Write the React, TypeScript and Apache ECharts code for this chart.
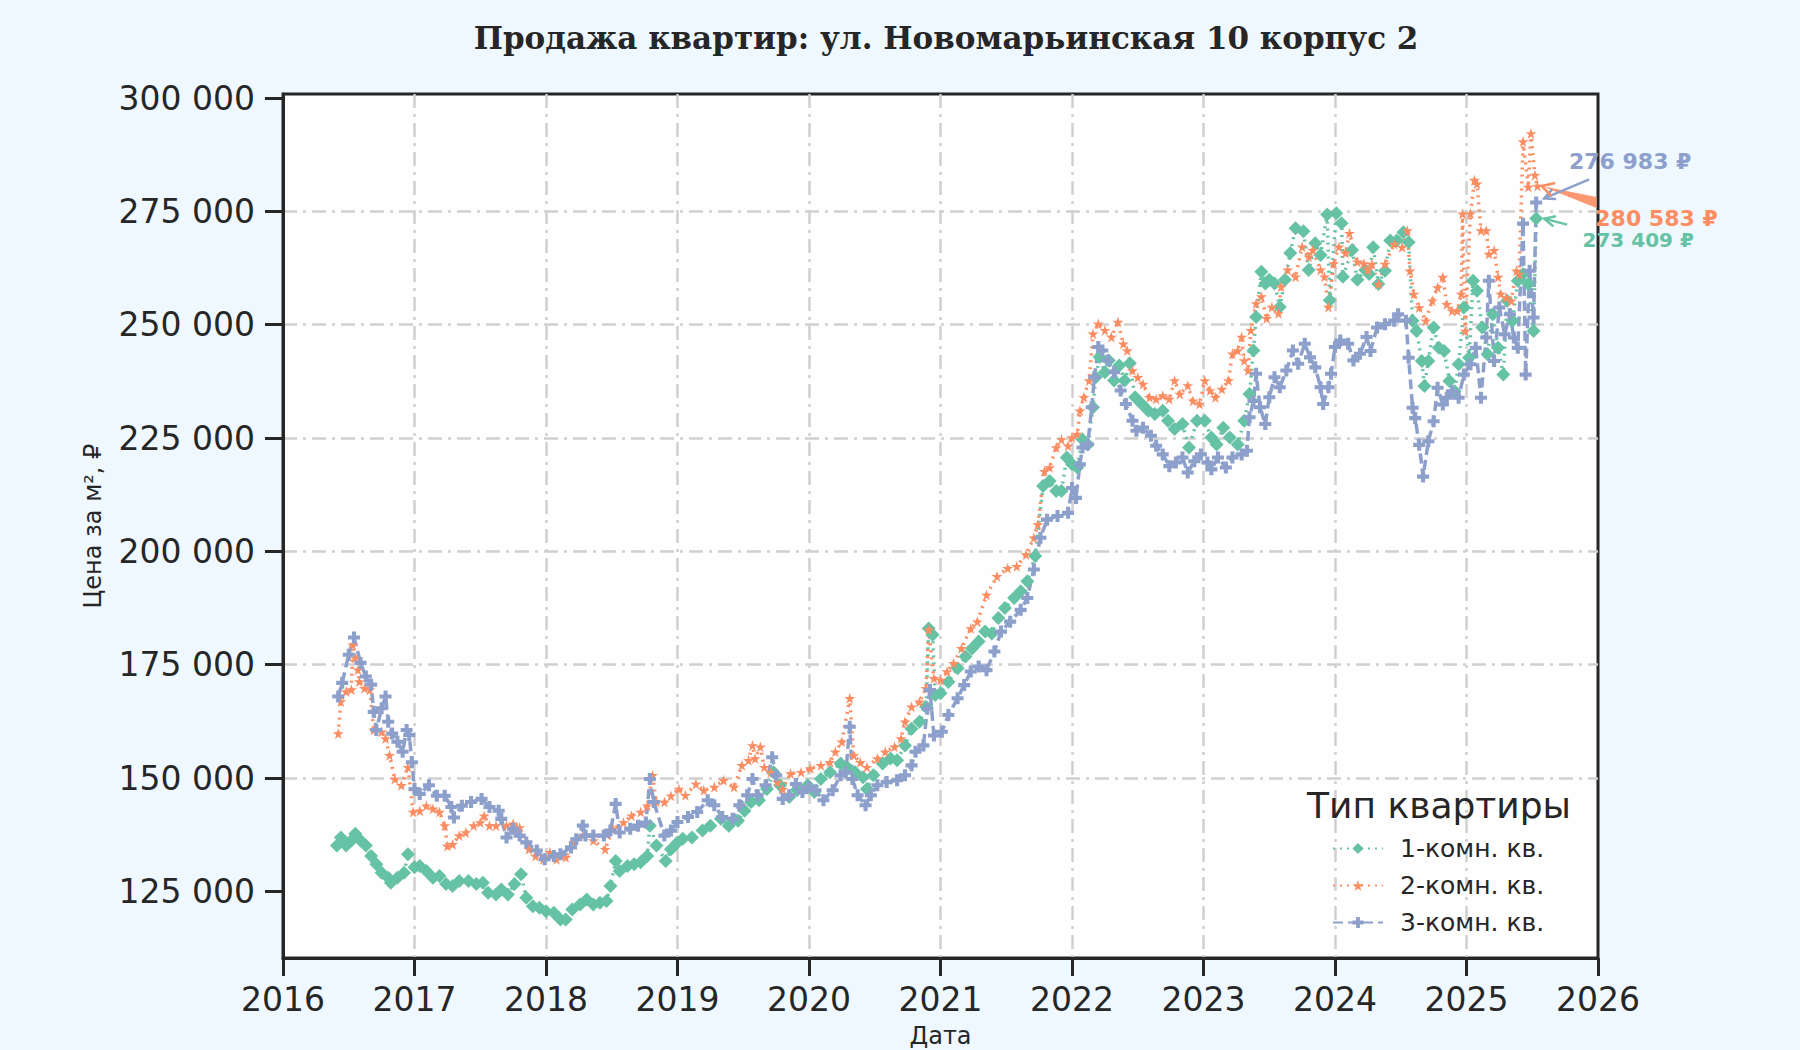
import { useEffect, useRef } from 'react'
import * as echarts from 'echarts'

const TITLE = 'Продажа квартир: ул. Новомарьинская 10 корпус 2'
const seriesNames = ['1-комн. кв.', '2-комн. кв.', '3-комн. кв.']
const seriesColors = ['#66c2a5', '#fc8d62', '#8da0cb']
const priceTicks = [125000, 150000, 175000, 200000, 225000, 250000, 275000, 300000]

// [год, цена за м²]
const oneRoom: [number, number][] = [
  [2016.41, 135100], [2016.44, 136900], [2016.48, 135100], [2016.52, 136200], [2016.55, 137700], [2016.59, 136200], [2016.63, 135100], [2016.67, 132800], [2016.71, 131000], [2016.75, 129100],
  [2016.8, 128000], [2016.82, 126900], [2016.87, 128000], [2016.92, 129100], [2016.95, 133200], [2017.0, 130300], [2017.04, 130600], [2017.09, 129500], [2017.14, 128000], [2017.19, 128400],
  [2017.24, 126600], [2017.29, 126200], [2017.34, 127300], [2017.41, 127300], [2017.47, 126600], [2017.52, 126900], [2017.56, 124700], [2017.62, 124300], [2017.66, 125400], [2017.71, 124300],
  [2017.76, 126600], [2017.81, 128800], [2017.85, 123600], [2017.9, 121700], [2017.95, 121400], [2018.0, 120600], [2018.06, 120300], [2018.11, 118800], [2018.15, 118800], [2018.2, 121000],
  [2018.26, 122100], [2018.31, 123200], [2018.36, 122100], [2018.41, 122500], [2018.46, 122900], [2018.49, 126200], [2018.53, 131700], [2018.56, 129500], [2018.62, 130600], [2018.67, 131000],
  [2018.72, 131400], [2018.77, 132800], [2018.79, 139500], [2018.84, 135100], [2018.91, 131700], [2018.95, 134300], [2019.0, 135800], [2019.04, 136600], [2019.11, 136900], [2019.19, 138400],
  [2019.25, 139500], [2019.33, 141000], [2019.39, 139500], [2019.46, 140600], [2019.51, 142800], [2019.56, 144700], [2019.62, 145100], [2019.68, 147600], [2019.73, 151300], [2019.78, 148400],
  [2019.85, 145800], [2019.91, 147300], [2019.99, 148400], [2020.04, 146900], [2020.09, 149800], [2020.16, 151300], [2020.24, 153200], [2020.3, 152100], [2020.35, 151300], [2020.41, 150200],
  [2020.44, 147600], [2020.49, 150600], [2020.56, 153200], [2020.62, 154300], [2020.67, 153900], [2020.73, 157200], [2020.78, 160900], [2020.84, 162400], [2020.89, 165700], [2020.91, 183000],
  [2020.94, 181600], [2020.96, 168300], [2021.0, 168700], [2021.06, 171200], [2021.13, 174200], [2021.19, 176800], [2021.24, 178600], [2021.29, 180100], [2021.34, 182300], [2021.39, 181900],
  [2021.44, 185300], [2021.49, 187500], [2021.56, 189700], [2021.61, 191200], [2021.66, 193400], [2021.72, 199000], [2021.78, 214400], [2021.83, 215500], [2021.88, 213300], [2021.92, 213300],
  [2021.96, 220700], [2022.0, 219200], [2022.04, 218500], [2022.08, 224700], [2022.12, 223600], [2022.16, 231800], [2022.18, 238400], [2022.21, 242900], [2022.25, 239500], [2022.28, 242100],
  [2022.32, 237700], [2022.36, 241000], [2022.4, 237700], [2022.44, 241500], [2022.48, 234000], [2022.53, 232500], [2022.58, 231000], [2022.63, 230300], [2022.69, 231000], [2022.73, 228800],
  [2022.78, 227000], [2022.84, 228100], [2022.89, 222900], [2022.95, 228800], [2023.01, 228800], [2023.06, 225100], [2023.1, 223600], [2023.15, 227300], [2023.2, 225100], [2023.26, 223600],
  [2023.31, 228800], [2023.35, 234700], [2023.38, 244300], [2023.4, 251700], [2023.44, 261700], [2023.47, 259100], [2023.5, 259900], [2023.54, 259100], [2023.58, 253900], [2023.62, 259900],
  [2023.66, 265800], [2023.7, 271300], [2023.76, 270600], [2023.8, 262100], [2023.85, 268000], [2023.89, 265400], [2023.94, 274300], [2023.96, 255400], [2024.01, 274600], [2024.05, 272400],
  [2024.06, 260600], [2024.13, 266500], [2024.17, 259900], [2024.23, 262100], [2024.26, 261200], [2024.29, 267100], [2024.33, 259000], [2024.38, 261900], [2024.42, 268600], [2024.47, 268600],
  [2024.52, 270400], [2024.56, 268200], [2024.59, 250900], [2024.62, 248600], [2024.66, 242000], [2024.68, 236500], [2024.71, 242000], [2024.75, 249400], [2024.79, 244900], [2024.83, 244200],
  [2024.87, 237600], [2024.91, 235300], [2024.94, 241300], [2024.98, 253800], [2025.02, 242700], [2025.05, 259700], [2025.08, 257500], [2025.12, 249400], [2025.16, 243500], [2025.2, 252300],
  [2025.24, 244900], [2025.28, 239000], [2025.31, 255300], [2025.35, 250900], [2025.39, 259700], [2025.43, 261200], [2025.47, 259000], [2025.51, 248600], [2025.53, 273409],
]

const twoRoom: [number, number][] = [
  [2016.42, 159800], [2016.44, 166900], [2016.48, 169100], [2016.52, 169500], [2016.53, 179400], [2016.55, 176500], [2016.57, 173900], [2016.58, 171300], [2016.62, 169800], [2016.66, 169500],
  [2016.69, 160600], [2016.75, 160200], [2016.78, 158700], [2016.81, 155000], [2016.85, 149800], [2016.9, 148400], [2016.95, 152400], [2016.99, 142500], [2017.04, 142800], [2017.09, 143900],
  [2017.14, 143200], [2017.19, 142500], [2017.23, 139500], [2017.25, 135000], [2017.29, 135400], [2017.34, 137300], [2017.39, 138000], [2017.45, 139500], [2017.5, 140200], [2017.53, 141700],
  [2017.57, 139500], [2017.62, 139500], [2017.7, 139500], [2017.75, 139900], [2017.8, 139100], [2017.87, 134300], [2017.92, 132800], [2017.98, 132100], [2018.03, 133600], [2018.08, 132100],
  [2018.15, 132500], [2018.21, 135800], [2018.28, 137300], [2018.36, 136200], [2018.45, 134300], [2018.51, 138800], [2018.59, 140200], [2018.65, 141700], [2018.72, 142500], [2018.77, 143900],
  [2018.81, 150600], [2018.84, 144700], [2018.9, 144700], [2018.95, 146100], [2019.01, 147600], [2019.06, 146200], [2019.14, 148700], [2019.2, 147300], [2019.28, 148000], [2019.35, 149500],
  [2019.43, 148000], [2019.49, 152800], [2019.54, 153900], [2019.57, 157200], [2019.59, 154300], [2019.63, 156900], [2019.66, 152400], [2019.71, 151300], [2019.76, 149100], [2019.8, 147600],
  [2019.86, 151000], [2019.94, 151300], [2020.01, 152100], [2020.09, 152800], [2020.16, 153500], [2020.2, 155800], [2020.25, 158000], [2020.31, 167600], [2020.34, 155000], [2020.39, 153500],
  [2020.44, 152400], [2020.52, 154300], [2020.58, 155800], [2020.65, 156900], [2020.7, 158700], [2020.73, 162400], [2020.78, 165700], [2020.84, 166800], [2020.89, 169800], [2020.91, 182700],
  [2020.95, 172000], [2021.0, 171600], [2021.05, 173500], [2021.1, 175300], [2021.16, 178600], [2021.23, 183000], [2021.28, 184500], [2021.35, 190400], [2021.43, 194500], [2021.51, 196300],
  [2021.58, 196700], [2021.65, 199300], [2021.71, 203000], [2021.74, 205900], [2021.79, 217700], [2021.83, 218500], [2021.88, 222900], [2021.92, 224700], [2021.97, 223300], [2022.0, 225100],
  [2022.04, 225900], [2022.06, 231000], [2022.09, 234000], [2022.13, 237700], [2022.16, 248000], [2022.2, 250200], [2022.25, 248800], [2022.3, 247300], [2022.35, 250600], [2022.39, 245800],
  [2022.42, 244300], [2022.46, 239900], [2022.5, 238400], [2022.54, 236900], [2022.59, 234000], [2022.64, 233600], [2022.69, 234400], [2022.74, 233600], [2022.78, 237700], [2022.82, 234700],
  [2022.88, 236600], [2022.92, 233200], [2022.97, 232500], [2023.01, 237700], [2023.05, 235500], [2023.09, 234000], [2023.14, 235800], [2023.19, 237700], [2023.22, 243600], [2023.26, 244300],
  [2023.29, 247300], [2023.31, 242100], [2023.34, 239900], [2023.36, 248800], [2023.4, 254700], [2023.44, 256200], [2023.48, 251400], [2023.52, 253900], [2023.57, 252500], [2023.59, 258400],
  [2023.64, 262100], [2023.7, 260600], [2023.75, 267200], [2023.8, 265000], [2023.83, 266500], [2023.89, 262100], [2023.92, 260600], [2023.95, 253900], [2023.99, 263500], [2024.03, 267200],
  [2024.08, 265800], [2024.11, 270200], [2024.17, 263900], [2024.22, 263500], [2024.25, 262100], [2024.28, 263400], [2024.33, 259000], [2024.38, 263400], [2024.45, 267800], [2024.51, 267100],
  [2024.55, 270800], [2024.57, 261900], [2024.6, 256800], [2024.64, 253800], [2024.69, 250900], [2024.74, 255300], [2024.78, 258200], [2024.82, 260500], [2024.85, 254500], [2024.89, 253100],
  [2024.93, 253100], [2024.96, 256800], [2024.97, 274500], [2024.99, 248600], [2025.03, 274500], [2025.06, 281900], [2025.08, 281100], [2025.11, 270800], [2025.15, 270800], [2025.17, 265600],
  [2025.21, 266400], [2025.24, 260500], [2025.26, 256800], [2025.3, 256000], [2025.34, 255300], [2025.38, 261900], [2025.4, 261200], [2025.43, 290400], [2025.47, 280400], [2025.49, 292200],
  [2025.52, 283000], [2025.54, 280583],
]

const threeRoom: [number, number][] = [
  [2016.42, 168000], [2016.45, 171000], [2016.5, 177200], [2016.54, 181000], [2016.59, 175400], [2016.63, 172400], [2016.67, 170600], [2016.69, 164600], [2016.71, 160600], [2016.75, 165400],
  [2016.78, 168000], [2016.8, 162400], [2016.83, 159800], [2016.87, 158000], [2016.91, 155800], [2016.94, 160600], [2016.96, 159500], [2016.98, 153500], [2017.0, 147600], [2017.04, 146500],
  [2017.11, 148400], [2017.17, 146100], [2017.23, 146100], [2017.28, 143600], [2017.3, 141300], [2017.36, 143900], [2017.43, 144700], [2017.51, 145400], [2017.57, 143600], [2017.64, 142800],
  [2017.66, 141000], [2017.7, 136900], [2017.75, 138800], [2017.8, 137300], [2017.85, 135800], [2017.93, 134000], [2017.99, 132100], [2018.06, 132800], [2018.11, 133200], [2018.19, 134700],
  [2018.23, 136500], [2018.28, 139500], [2018.3, 137300], [2018.36, 137300], [2018.44, 137300], [2018.49, 138400], [2018.53, 144300], [2018.56, 138000], [2018.64, 138800], [2018.7, 139500],
  [2018.76, 140200], [2018.79, 149800], [2018.82, 144700], [2018.9, 137300], [2018.95, 138400], [2019.0, 140300], [2019.08, 141400], [2019.15, 142500], [2019.23, 145100], [2019.28, 144000],
  [2019.34, 141400], [2019.42, 141000], [2019.47, 144000], [2019.53, 146200], [2019.57, 149800], [2019.61, 146200], [2019.67, 148400], [2019.72, 154600], [2019.75, 150600], [2019.8, 145400],
  [2019.85, 146200], [2019.9, 148700], [2019.95, 146900], [2020.0, 148000], [2020.05, 147300], [2020.11, 145100], [2020.18, 147300], [2020.24, 150600], [2020.28, 151300], [2020.31, 161300],
  [2020.33, 149800], [2020.37, 146200], [2020.43, 144000], [2020.47, 146200], [2020.52, 148400], [2020.59, 149100], [2020.67, 149500], [2020.73, 150600], [2020.78, 152800], [2020.81, 155800],
  [2020.87, 157200], [2020.9, 165300], [2020.92, 169400], [2020.95, 159400], [2021.01, 160200], [2021.06, 163900], [2021.13, 167600], [2021.18, 170500], [2021.23, 173500], [2021.29, 174600],
  [2021.35, 173800], [2021.41, 177900], [2021.46, 182300], [2021.53, 184500], [2021.61, 187100], [2021.66, 189700], [2021.71, 196000], [2021.76, 203000], [2021.81, 207000], [2021.89, 207800],
  [2021.97, 208500], [2022.0, 214000], [2022.03, 211800], [2022.06, 219200], [2022.08, 222900], [2022.12, 223600], [2022.15, 231800], [2022.17, 238400], [2022.2, 245100], [2022.23, 244300],
  [2022.27, 242100], [2022.32, 239500], [2022.37, 235500], [2022.41, 232500], [2022.46, 228800], [2022.49, 226600], [2022.54, 227300], [2022.6, 225500], [2022.64, 223300], [2022.69, 221400],
  [2022.74, 218800], [2022.79, 219600], [2022.84, 220700], [2022.88, 217400], [2022.93, 219900], [2022.98, 221400], [2023.03, 219600], [2023.06, 218100], [2023.11, 220700], [2023.17, 218500],
  [2023.22, 220700], [2023.29, 221400], [2023.33, 222200], [2023.35, 229600], [2023.38, 233200], [2023.4, 239200], [2023.43, 231800], [2023.47, 228100], [2023.5, 234000], [2023.54, 238400],
  [2023.58, 236200], [2023.63, 239900], [2023.68, 244300], [2023.72, 241400], [2023.77, 245800], [2023.81, 242800], [2023.85, 240600], [2023.89, 236200], [2023.91, 232500], [2023.95, 236200],
  [2023.97, 239200], [2024.0, 245100], [2024.04, 246500], [2024.1, 245800], [2024.14, 242100], [2024.19, 243600], [2024.24, 247300], [2024.27, 244200], [2024.32, 249400], [2024.38, 250100],
  [2024.45, 250900], [2024.48, 252300], [2024.54, 250900], [2024.56, 242700], [2024.59, 231700], [2024.61, 229400], [2024.64, 223500], [2024.67, 216500], [2024.71, 224300], [2024.75, 228700],
  [2024.78, 236100], [2024.82, 232400], [2024.85, 233900], [2024.89, 235300], [2024.94, 233900], [2024.98, 239000], [2025.03, 241300], [2025.07, 244900], [2025.11, 233900], [2025.15, 247200],
  [2025.17, 259700], [2025.21, 242000], [2025.25, 253800], [2025.29, 247900], [2025.33, 252300], [2025.36, 247200], [2025.39, 244900], [2025.43, 272300], [2025.45, 239000], [2025.48, 261900],
  [2025.51, 251600], [2025.53, 276983],
]

const STAR = 'path://M50,0 L61,35 L98,35 L68,57 L79,91 L50,70 L21,91 L32,57 L2,35 L39,35 Z'
const PLUS = 'path://M33,0 H67 V33 H100 V67 H67 V100 H33 V67 H0 V33 H33 Z'

const INK = '#262626'
const FONT = '"DejaVu Sans", sans-serif'

const rub = (v: number) => String(Math.round(v)).replace(/\B(?=(\d{3})+(?!\d))/g, ' ')

// наконечник стрелки: две короткие линии от острия
function arrowHead(tip: number[], tail: number[], len = 12, spread = 0.45) {
  const a = Math.atan2(tail[1] - tip[1], tail[0] - tip[0])
  return [
    [tip[0] + len * Math.cos(a + spread), tip[1] + len * Math.sin(a + spread)],
    tip,
    [tip[0] + len * Math.cos(a - spread), tip[1] + len * Math.sin(a - spread)],
  ]
}

export default function App() {
  const ref = useRef<HTMLDivElement>(null)

  useEffect(() => {
    if (!ref.current) return
    const chart = echarts.init(ref.current, null, { renderer: 'svg' })

    const axisLine = { show: true, lineStyle: { color: INK, width: 3 } }
    const axisTick = { show: true, length: 18, lineStyle: { color: INK, width: 3 } }
    const splitLine = {
      show: true,
      showMinLine: false,
      showMaxLine: false,
      lineStyle: { color: '#cfcfcf', width: 2.5, type: [14, 6, 3, 6] },
    }

    chart.setOption({
      animation: false,
      backgroundColor: '#f0f8ff',
      title: {
        text: TITLE,
        left: 941,
        top: 17,
        textAlign: 'center',
        textStyle: { fontFamily: '"DejaVu Serif", serif', fontWeight: 'bold', fontSize: 31, color: INK },
      },
      grid: {
        left: 283,
        right: 202,
        top: 94,
        bottom: 92,
        outerBoundsMode: 'none',
        containLabel: false,
        show: true,
        backgroundColor: '#fefefe',
        borderColor: INK,
        borderWidth: 3,
      },
      xAxis: {
        type: 'value',
        min: 2016,
        max: 2026,
        interval: 1,
        name: 'Дата',
        nameLocation: 'middle',
        nameGap: 66,
        nameTextStyle: { fontFamily: FONT, fontSize: 24, color: INK },
        axisLine,
        axisTick,
        axisLabel: { fontFamily: FONT, fontSize: 33, color: INK, margin: 25, formatter: (v: number) => String(v) },
        splitLine,
      },
      yAxis: {
        type: 'value',
        min: 110300,
        max: 300900,
        name: 'Цена за м², ₽',
        nameLocation: 'middle',
        nameGap: 178,
        nameTextStyle: { fontFamily: FONT, fontSize: 24, color: INK },
        axisLine,
        axisTick: { ...axisTick, customValues: priceTicks },
        axisLabel: { fontFamily: FONT, fontSize: 33, color: INK, margin: 28, customValues: priceTicks, formatter: rub },
        splitLine,
      },
      legend: {
        orient: 'vertical',
        left: 1327,
        top: 831,
        itemWidth: 50,
        itemHeight: 14,
        itemGap: 12,
        data: seriesNames,
        textStyle: { fontFamily: FONT, fontSize: 25, color: INK, padding: [0, 0, 0, 12] },
      },
      series: [
        {
          name: seriesNames[0],
          type: 'line',
          data: oneRoom,
          symbol: 'diamond',
          symbolSize: 14,
          itemStyle: { color: seriesColors[0] },
          lineStyle: { color: seriesColors[0], width: 3.5, type: [2, 5] },
        },
        {
          name: seriesNames[1],
          type: 'line',
          data: twoRoom,
          symbol: STAR,
          symbolSize: 11,
          itemStyle: { color: seriesColors[1] },
          lineStyle: { color: seriesColors[1], width: 3.5, type: [2, 5] },
        },
        {
          name: seriesNames[2],
          type: 'line',
          data: threeRoom,
          symbol: PLUS,
          symbolSize: 12,
          itemStyle: { color: seriesColors[2] },
          lineStyle: { color: seriesColors[2], width: 3.5, type: [10, 5] },
        },
      ],
    })

    // подписи последних значений
    const last1 = oneRoom[oneRoom.length - 1]
    const last2 = twoRoom[twoRoom.length - 1]
    const last3 = threeRoom[threeRoom.length - 1]
    const p1 = chart.convertToPixel({ gridIndex: 0 }, last1) as number[]
    const p2 = chart.convertToPixel({ gridIndex: 0 }, last2) as number[]
    const p3 = chart.convertToPixel({ gridIndex: 0 }, last3) as number[]

    const label = (x: number, y: number, text: string, color: string, size: number) => ({
      type: 'text',
      z: 100,
      style: {
        x, y, text, fill: color,
        align: 'center', verticalAlign: 'middle', lineHeight: 18,
        fontFamily: FONT, fontWeight: 'bold', fontSize: size,
      },
    })
    const arrow = (tail: number[], tip: number[], color: string) => [
      { type: 'line', z: 100, shape: { x1: tail[0], y1: tail[1], x2: tip[0], y2: tip[1] }, style: { stroke: color, lineWidth: 2.5 } },
      { type: 'polyline', z: 100, shape: { points: arrowHead(tip, tail) }, style: { stroke: color, lineWidth: 2.5, fill: null } },
    ]

    const tip3 = [p3[0] + 8, p3[1] - 4]
    const tip2 = [p2[0] + 4, p2[1]]
    const tip1 = [p1[0] + 8, p1[1]]

    chart.setOption({
      graphic: [
        // 3-комн.
        ...arrow([p3[0] + 53, p3[1] - 23], tip3, seriesColors[2]),
        label(p3[0] + 94, p3[1] - 41, `${rub(last3[1])} ₽`, seriesColors[2], 22),
        // 2-комн.: клин
        {
          type: 'polygon',
          z: 99,
          shape: { points: [tip2, [p2[0] + 59, p2[1] + 11], [p2[0] + 59, p2[1] + 22]] },
          style: { fill: seriesColors[1], opacity: 0.9 },
        },
        { type: 'polyline', z: 100, shape: { points: arrowHead(tip2, [p2[0] + 59, p2[1] + 16], 14, 0.5) }, style: { stroke: seriesColors[1], lineWidth: 2.5, fill: null } },
        label(p2[0] + 119, p2[1] + 32, `${rub(last2[1])} ₽`, seriesColors[1], 22),
        // 1-комн.
        ...arrow([p1[0] + 31, p1[1] + 6], tip1, seriesColors[0]),
        label(p1[0] + 102, p1[1] + 21, `${rub(last1[1])} ₽`, seriesColors[0], 20),
        // заголовок легенды
        {
          type: 'text',
          z: 100,
          style: {
            x: 1439, y: 805, text: 'Тип квартиры', fill: INK,
            align: 'center', verticalAlign: 'middle', fontFamily: FONT, fontSize: 36,
          },
        },
      ],
    })

    return () => chart.dispose()
  }, [])

  return (
    <div style={{ position: 'fixed', left: 0, top: 0, width: 1800, height: 1050, background: '#f0f8ff' }}>
      <div ref={ref} style={{ width: 1800, height: 1050 }} />
    </div>
  )
}
